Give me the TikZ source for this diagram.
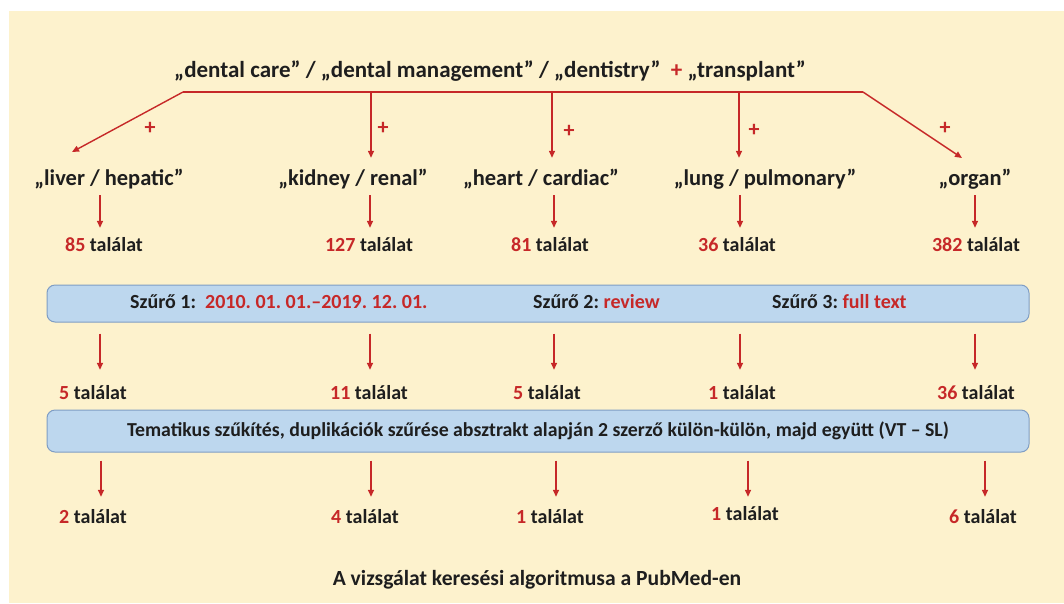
\documentclass[tikz,border=0pt]{standalone}
\usepackage{fontspec}
\setmainfont{Carlito}
\usetikzlibrary{arrows.meta}
\frenchspacing
\definecolor{pmred}{HTML}{C62828}
\definecolor{cream}{HTML}{FDF2CD}
\definecolor{boxblue}{HTML}{BDD7EE}
\definecolor{boxline}{HTML}{7F9DC4}
\definecolor{txt}{HTML}{1E1E1E}
\newcommand{\rd}[1]{\textcolor{pmred}{#1}}
\tikzset{
  arr/.style={draw=pmred, line width=1.4pt, -{Triangle[length=7pt,width=6pt]}},
  bar/.style={draw=pmred, line width=1.4pt},
  term/.style={text=txt, font=\fontsize{22.5}{26}\selectfont\bfseries, inner sep=0pt, text height=16pt, text depth=5pt},
  hit/.style={text=txt, font=\fontsize{20}{24}\selectfont\bfseries, inner sep=0pt, text height=14pt, text depth=4pt},
  plus/.style={text=pmred, font=\fontsize{22}{26}\selectfont\bfseries, inner sep=0pt},
  filterbox/.style={draw=boxline, fill=boxblue, rounded corners=8pt, line width=1pt, minimum width=982pt, inner sep=0pt},
}
\begin{document}
\begin{tikzpicture}[x=1pt, y=-1pt]
\fill[white] (0,0) rectangle (1064,603);
\fill[cream] (9,11) rectangle (1064,603);
% search terms
\node[term, font=\fontsize{23}{27}\selectfont\bfseries] (query) at (490,72) {„dental care” / „dental management” / „dentistry”\ \ \rd{+} „transplant”};
\coordinate (bl) at (183,92);
\coordinate (br) at (863,92);
\coordinate (b2) at (371,92);
\coordinate (b3) at (552,92);
\coordinate (b4) at (739,92);
\coordinate (tl) at (72,152);
\coordinate (tr) at (962,158);
\draw[bar] (bl) -- (br);
%
\node[term] (liver) at (109,180) {„liver / hepatic”};
\node[term] (kidney) at (353,180) {„kidney / renal”};
\node[term] (heart) at (541,180) {„heart / cardiac”};
\node[term] (lung) at (765,180) {„lung / pulmonary”};
\node[term] (organ) at (975,180) {„organ”};
\draw[arr] (bl) -- (tl);
\draw[arr] (br) -- (tr);
\draw[arr, shorten >=11.5pt] (b2) -- (kidney.north -| b2);
\draw[arr, shorten >=11.5pt] (b3) -- (heart.north -| b3);
\draw[arr, shorten >=11.5pt] (b4) -- (lung.north -| b4);
\node[plus] (p1) at (150,128) {+};
\node[plus] (p2) at (383,128) {+};
\node[plus] (p3) at (569,131) {+};
\node[plus] (p4) at (754,130) {+};
\node[plus] (p5) at (945,128) {+};
% arrow columns
\coordinate (c1) at (100,0);
\coordinate (c2) at (370,0);
\coordinate (c3) at (554,0);
\coordinate (c4) at (740,0);
\coordinate (c5) at (975,0);
% first hits
\node[hit] (h1) at (104,246) {\rd{85} találat};
\node[hit] (h2) at (369,246) {\rd{127} találat};
\node[hit] (h3) at (550,246) {\rd{81} találat};
\node[hit] (h4) at (737,246) {\rd{36} találat};
\node[hit] (h5) at (976,246) {\rd{382} találat};
\draw[arr, shorten <=4.5pt, shorten >=9pt] (liver.south -| c1) -- (h1.north -| c1);
\draw[arr, shorten <=4.5pt, shorten >=9pt] (kidney.south -| c2) -- (h2.north -| c2);
\draw[arr, shorten <=4.5pt, shorten >=9pt] (heart.south -| c3) -- (h3.north -| c3);
\draw[arr, shorten <=4.5pt, shorten >=9pt] (lung.south -| c4) -- (h4.north -| c4);
\draw[arr, shorten <=4.5pt, shorten >=9pt] (organ.south -| c5) -- (h5.north -| c5);
% filters
\node[filterbox, minimum height=37pt] (filter) at (538,303.5) {};
\node[hit, anchor=west] (f1) at (130,303) {Szűrő 1:\ \ \rd{2010. 01. 01.–2019. 12. 01.}};
\node[hit, anchor=west] (f2) at (533,303) {Szűrő 2: \rd{review}};
\node[hit, anchor=west] (f3) at (772,303) {Szűrő 3: \rd{full text}};
\node[hit] (k1) at (93,394) {\rd{5} találat};
\node[hit] (k2) at (369,394) {\rd{11} találat};
\node[hit] (k3) at (547,394) {\rd{5} találat};
\node[hit] (k4) at (742,394) {\rd{1} találat};
\node[hit] (k5) at (976,394) {\rd{36} találat};
\draw[arr, shorten <=11pt, shorten >=15pt] (filter.south -| c1) -- (k1.north -| c1);
\draw[arr, shorten <=11pt, shorten >=15pt] (filter.south -| c2) -- (k2.north -| c2);
\draw[arr, shorten <=11pt, shorten >=15pt] (filter.south -| c3) -- (k3.north -| c3);
\draw[arr, shorten <=11pt, shorten >=15pt] (filter.south -| c4) -- (k4.north -| c4);
\draw[arr, shorten <=11pt, shorten >=15pt] (filter.south -| c5) -- (k5.north -| c5);
% thematic narrowing
\node[filterbox, minimum height=42pt, text=txt, font=\fontsize{19.8}{23}\selectfont\bfseries] (theme) at (538,431) {Tematikus szűkítés, duplikációk szűrése absztrakt alapján 2 szerző külön-külön, majd együtt (VT – SL)};
\coordinate (d1) at (101,0);
\coordinate (d2) at (371,0);
\coordinate (d3) at (556,0);
\coordinate (d4) at (748,0);
\coordinate (d5) at (985,0);
\node[hit] (r1) at (93,518) {\rd{2} találat};
\node[hit] (r2) at (365,518) {\rd{4} találat};
\node[hit] (r3) at (550,518) {\rd{1} találat};
\node[hit] (r4) at (745,515) {\rd{1} találat};
\node[hit] (r5) at (983,518) {\rd{6} találat};
\draw[arr, shorten <=8pt, shorten >=12pt] (theme.south -| d1) -- (r1.north -| d1);
\draw[arr, shorten <=8pt, shorten >=12pt] (theme.south -| d2) -- (r2.north -| d2);
\draw[arr, shorten <=8pt, shorten >=12pt] (theme.south -| d3) -- (r3.north -| d3);
\draw[arr, shorten <=8pt, shorten >=9pt] (theme.south -| d4) -- (r4.north -| d4);
\draw[arr, shorten <=8pt, shorten >=12pt] (theme.south -| d5) -- (r5.north -| d5);
\node[hit, font=\fontsize{21.6}{25}\selectfont\bfseries] (caption) at (537,580) {A vizsgálat keresési algoritmusa a PubMed-en};
\end{tikzpicture}
\end{document}
